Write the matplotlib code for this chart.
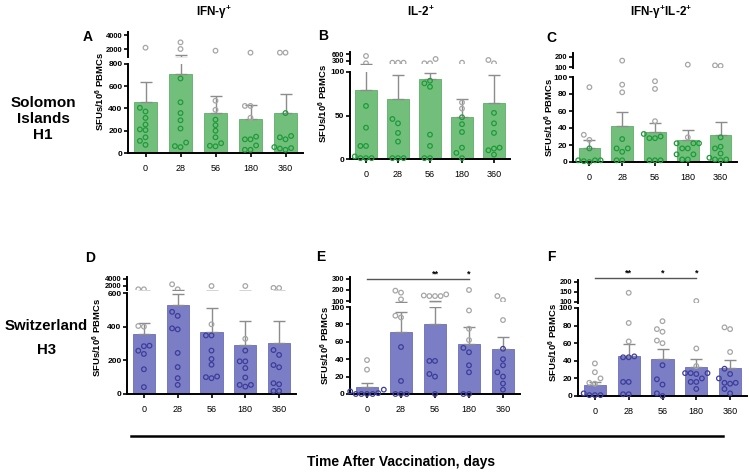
import numpy as np
import matplotlib
matplotlib.use("Agg")
import matplotlib.pyplot as plt
from matplotlib.lines import Line2D

plt.rcParams["font.family"] = ["Liberation Sans", "DejaVu Sans"]
plt.rcParams["mathtext.fontset"] = "custom"
plt.rcParams["mathtext.rm"] = "Liberation Sans"
plt.rcParams["mathtext.bf"] = "Liberation Sans:bold"

W, H = 749, 474

# ---------- data ----------
days = ["0", "28", "56", "180", "360"]

# A: IFN-g+, Solomon Islands H1
A_mean = [456, 714, 362, 309, 362]
A_err = [638, 1140, 515, 435, 530]
A_pts = [
    [2190, 406, 373, 315, 256, 212, 206, 141, 109, 73],
    [2952, 2000, 670, 456, 359, 294, 220, 94, 62, 53],
    [1760, 470, 388, 300, 250, 200, 141, 88, 65, 60],
    [1480, 423, 423, 317, 147, 123, 123, 68, 29, 29],
    [1480, 1480, 359, 153, 141, 123, 53, 44, 40, 29],
]
# B: IL-2+, Solomon Islands H1
B_mean = [79, 69, 92, 48, 64]
B_err = [190, 96, 99, 69, 96]
B_pts = [
    [514, 201, 61, 36, 15, 15, 3, 1, 1, 1],
    [227, 227, 227, 46, 41, 30, 20, 1, 1, 1],
    [386, 201, 201, 90, 87, 83, 28, 15, 1, 1],
    [227, 65, 58, 48, 40, 31, 13, 7, 1],
    [343, 201, 53, 41, 30, 13, 12, 10, 5],
]
# C: IFN-g+IL-2+, Solomon Islands H1
C_mean = [17, 42, 35, 26, 32]
C_err = [26, 59, 46, 38, 47]
C_pts = [
    [88, 32, 26, 16, 2, 2, 2, 1, 0],
    [163, 91, 82, 27, 16, 16, 12, 2, 2],
    [95, 86, 48, 33, 30, 28, 28, 2, 2, 2],
    [126, 29, 22, 22, 22, 16, 16, 9, 9, 3, 3],
    [119, 115, 29, 18, 16, 10, 5, 3, 3, 2],
]
# D: IFN-g+, Switzerland H3
D_mean = [354, 528, 368, 290, 304]
D_err = [424, 594, 510, 434, 434]
D_pts = [
    [900, 900, 404, 400, 287, 284, 257, 238, 147, 41],
    [2370, 900, 488, 464, 390, 384, 244, 160, 94, 54],
    [1870, 414, 348, 348, 258, 208, 174, 104, 100, 94],
    [1870, 328, 258, 194, 194, 154, 98, 54, 54, 44],
    [1320, 1280, 261, 232, 172, 159, 64, 58, 18, 18],
]
# E: IL-2+, Switzerland H3
E_mean = [8, 71, 80, 58, 52]
E_err = [13, 94, 100, 77, 65]
E_pts = [
    [39, 28, 5, 3, 1, 0, 0, 0, 0],
    [194, 176, 115, 90, 88, 54, 15, 0, 0, 0],
    [160, 150, 145, 145, 145, 38, 38, 23, 20, 0],
    [200, 96, 75, 62, 53, 48, 33, 25, 0, 0],
    [145, 109, 85, 52, 40, 33, 25, 20, 12, 5],
]
E_stars = ["", "", "**", "*", ""]
# F: IFN-g+IL-2+, Switzerland H3
F_mean = [12, 45, 42, 33, 32]
F_err = [16, 59, 53, 42, 41]
F_pts = [
    [37, 27, 20, 15, 14, 3, 1, 1, 1],
    [146, 83, 62, 45, 44, 44, 16, 16, 2, 2],
    [85, 76, 73, 63, 60, 35, 19, 13, 3, 0],
    [105, 54, 34, 26, 26, 26, 25, 20, 16, 16, 8],
    [78, 76, 50, 31, 25, 20, 15, 15, 14, 8, 3],
]
F_stars = ["", "**", "*", "*", ""]

# ---------- styling ----------
GREEN = dict(fill="#72bf7c", edge="#5fae69", dot="#1f9a3a")
PURPLE = dict(fill="#7b7ec4", edge="#6a6db5", dot="#3d3d9c")
GREY_DOT = "#a6a6a6"
ERR_C = "#8c8c8c"

fig = plt.figure(figsize=(W / 100, H / 100), dpi=100)


def add_axes_px(x0, x1, yb, yt):
    return fig.add_axes([x0 / W, 1 - yb / H, (x1 - x0) / W, (yb - yt) / H])


def swarm_x(ax, x0, vals, d=5.6):
    """simple beeswarm in pixel space, returns data x positions"""
    if len(vals) == 0:
        return np.array([])
    pts = ax.transData.transform(np.column_stack([np.full(len(vals), x0), vals]))
    placed, xs = [], []
    for px, py in pts:
        cx = px
        for k in [0, -1, 1, -2, 2, -3, 3, -4, 4]:
            cx = px + k * d
            if all((cx - qx) ** 2 + (py - qy) ** 2 >= (d * 0.95) ** 2 for qx, qy in placed):
                break
        placed.append((cx, py))
        xs.append(cx)
    back = ax.transData.inverted().transform(np.column_stack([xs, pts[:, 1]]))
    return back[:, 0]


def draw_panel(letter, means, errs, pts, col, xr, lower_px, lower_lim, lower_ticks,
               upper_px, upper_lim, upper_ticks, letter_xy, ylab_xy, stars=None, star_y=None):
    lo = add_axes_px(xr[0], xr[1], lower_px[0], lower_px[1])
    up = add_axes_px(xr[0], xr[1], upper_px[0], upper_px[1])
    x = np.arange(len(days))
    for ax, lim in ((lo, lower_lim), (up, upper_lim)):
        ax.set_xlim(-0.5, 4.5)
        ax.set_ylim(*lim)
        ax.patch.set_alpha(0)
        for s in ("top", "right"):
            ax.spines[s].set_visible(False)
        ax.spines["left"].set_linewidth(1.4)
        ax.tick_params(axis="y", labelsize=6, length=3, width=1.2, pad=1)

    up.spines["bottom"].set_visible(False)
    up.set_xticks([])
    lo.spines["bottom"].set_linewidth(1.4)
    lo.set_xticks(x)
    lo.set_xticklabels(days)
    lo.tick_params(axis="x", labelsize=6.5, length=3, width=1.2, pad=5)
    lo.set_yticks(lower_ticks)
    up.set_yticks(upper_ticks)
    up.tick_params(axis="y", labelsize=5.4)
    for ax in (lo, up):
        for lab in ax.get_yticklabels():
            lab.set_fontweight("bold")

    lo.bar(x, means, width=0.66, color=col["fill"], edgecolor=col["edge"], linewidth=0.6, zorder=2)
    yerr = [np.zeros(len(means)), np.array(errs) - np.array(means)]
    for ax in (lo, up):
        ax.errorbar(x, means, yerr=yerr, fmt="none", ecolor=ERR_C, elinewidth=1.0,
                    capsize=4, capthick=1.0, zorder=3)

    top_lo = lower_lim[1]
    for i, vals in enumerate(pts):
        vals = np.sort(np.array(vals, dtype=float))
        for ax, sel, clip in ((lo, vals <= top_lo, False), (up, vals > top_lo, True)):
            v = vals[sel]
            if len(v) == 0:
                continue
            xs = swarm_x(ax, i, v)
            cols = [col["dot"] if vv <= means[i] else GREY_DOT for vv in v]
            ax.scatter(xs, v, s=11, facecolors="none", edgecolors=cols, linewidths=0.9,
                       zorder=4, clip_on=clip)

    if stars is not None:
        idx = [k for k, s in enumerate(stars) if s]
        x_end = max(idx)
        up.plot([0, x_end], [star_y, star_y], color="#555555", lw=1.0, clip_on=False)
        for k in idx:
            up.annotate(stars[k], (k, star_y), xytext=(0, 0.5), textcoords="offset points",
                        ha="center", va="bottom", fontsize=6.5, fontweight="bold",
                        annotation_clip=False)

    fig.text(letter_xy[0] / W, 1 - letter_xy[1] / H, letter, fontsize=10, fontweight="bold",
             ha="center", va="center")
    fig.text(ylab_xy[0] / W, 1 - ylab_xy[1] / H, r"SFUs/10$^{\mathbf{6}}$ PBMCs", rotation=90,
             fontsize=6.8, fontweight="bold", ha="center", va="center")


draw_panel("A", A_mean, A_err, A_pts, GREEN, (128, 303), (153, 64), (0, 800), [0, 200, 400, 600, 800],
           (57, 32), (860, 4430), [2000, 4000], (88, 37), (100, 91))
draw_panel("B", B_mean, B_err, B_pts, GREEN, (350, 510), (159, 72), (0, 100), [0, 50, 100],
           (64, 52), (171, 686), [300, 600], (323, 36), (323, 103))
draw_panel("C", C_mean, C_err, C_pts, GREEN, (573, 737), (162, 77), (0, 100), [0, 20, 40, 60, 80, 100],
           (68, 53), (95, 233), [100, 200], (551, 38), (549, 117))
draw_panel("D", D_mean, D_err, D_pts, PURPLE, (127, 296), (394, 293), (0, 600), [0, 200, 400, 600],
           (290, 277), (700, 4500), [2000, 4000], (90, 258), (97, 337))
draw_panel("E", E_mean, E_err, E_pts, PURPLE, (350, 520), (394, 307), (0, 100), [0, 20, 40, 60, 80, 100],
           (302, 277), (91, 318), [100, 200, 300], (321, 257), (325, 345), E_stars, 300)
draw_panel("F", F_mean, F_err, F_pts, PURPLE, (578, 747), (396, 308), (0, 100), [0, 20, 40, 60, 80, 100],
           (303, 280), (95, 210), [100, 150, 200], (551, 257), (553, 342), F_stars, 220)

# column titles
for label, cx in ((r"IFN-γ$^{\mathbf{+}}$", 214), (r"IL-2$^{\mathbf{+}}$", 421),
                  (r"IFN-γ$^{\mathbf{+}}$IL-2$^{\mathbf{+}}$", 661)):
    fig.text(cx / W, 1 - 12 / H, label, fontsize=8.5, fontweight="bold", ha="center", va="center")

# row labels
fig.text(43 / W, 1 - 119 / H, "Solomon\nIslands\nH1", fontsize=11, fontweight="bold",
         ha="center", va="center", linespacing=1.15)
fig.text(46 / W, 1 - 326 / H, "Switzerland", fontsize=10.8, fontweight="bold", ha="center", va="center")
fig.text(46 / W, 1 - 350 / H, "H3", fontsize=10.8, fontweight="bold", ha="center", va="center")

# shared x label
fig.add_artist(Line2D([131 / W, 723 / W], [1 - 436 / H, 1 - 436 / H], color="black", lw=1.8))
fig.text(401 / W, 1 - 462 / H, "Time After Vaccination, days", fontsize=10, fontweight="bold",
         ha="center", va="center")

fig.savefig("out.png", dpi=100)
